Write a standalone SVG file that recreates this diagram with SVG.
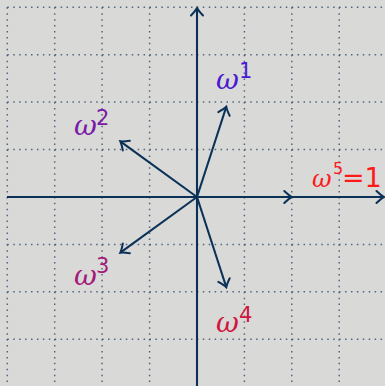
<svg xmlns="http://www.w3.org/2000/svg" width="385" height="386" viewBox="0 0 385 386">
<defs>
<style>
.grid{stroke:#2f4a66;stroke-width:1.5;stroke-dasharray:1.5 4.425;fill:none;opacity:0.8}
.ax{stroke:#0b3157;stroke-width:2.1;fill:none}
.w{font-family:"DejaVu Serif",serif;font-style:italic;font-size:28px}
.s{font-family:"DejaVu Sans",sans-serif;font-size:21px}
</style>
<marker id="arr" markerUnits="userSpaceOnUse" markerWidth="16" markerHeight="16" viewBox="-10 -8 12 16" refX="0" refY="0" orient="auto">
<path d="M-7.5,-6 Q-2.5,-1.3 0,0 Q-2.5,1.3 -7.5,6" fill="none" stroke="#0b3157" stroke-width="2" stroke-linecap="round"/>
</marker>
</defs>
<rect width="385" height="386" fill="#d9d9d8"/>
<g id="grid">
<path class="grid" d="M7.3,7.3V386M54.7,7.3V386M102.1,7.3V386M149.6,7.3V386M244.4,7.3V386M291.8,7.3V386M339.2,7.3V386"/>
<path class="grid" d="M7.3,7.3H385M7.3,54.7H385M7.3,102.1H385M7.3,149.6H385M7.3,244.4H385M7.3,291.8H385M7.3,339.2H385"/>
</g>
<g id="connectors">
<line class="ax" x1="7" y1="197" x2="384" y2="197" marker-end="url(#arr)"/>
<line class="ax" x1="197" y1="386" x2="197" y2="8" marker-end="url(#arr)"/>
<line class="ax" x1="197" y1="197" x2="291.8" y2="197" marker-end="url(#arr)"/>
<line class="ax" x1="197" y1="197" x2="226.3" y2="106.8" marker-end="url(#arr)"/>
<line class="ax" x1="197" y1="197" x2="120.3" y2="141.3" marker-end="url(#arr)"/>
<line class="ax" x1="197" y1="197" x2="120.3" y2="252.7" marker-end="url(#arr)"/>
<line class="ax" x1="197" y1="197" x2="226.3" y2="287.2" marker-end="url(#arr)"/>
</g>
<g id="w1" fill="#4b19d2"><text class="w" x="216" y="89">ω</text><text class="s" x="239" y="78">1</text></g>
<g id="w2" fill="#7a1aa6"><text class="w" x="74" y="135">ω</text><text class="s" x="96" y="125">2</text></g>
<g id="w3" fill="#a3197a"><text class="w" x="74" y="285">ω</text><text class="s" x="96" y="273">3</text></g>
<g id="w4" fill="#d0163e"><text class="w" x="216" y="331.5">ω</text><text class="s" x="239" y="321.5">4</text></g>
<g id="w5" fill="#ff1a1a"><text class="w" x="312" y="187" style="font-size:24px">ω</text><text class="s" x="333" y="174" style="font-size:16px">5</text><text class="s" x="342" y="187" style="font-size:27px">=1</text></g>
</svg>
